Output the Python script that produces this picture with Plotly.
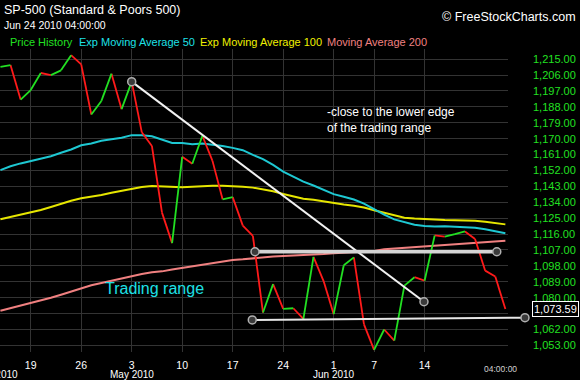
import plotly.graph_objects as go

# ---------------- data ----------------
dates = [
    "2010-04-14", "2010-04-15", "2010-04-16", "2010-04-19", "2010-04-20", "2010-04-21", "2010-04-22",
    "2010-04-23", "2010-04-26", "2010-04-27", "2010-04-28", "2010-04-29", "2010-04-30",
    "2010-05-03", "2010-05-04", "2010-05-05", "2010-05-06", "2010-05-07", "2010-05-10", "2010-05-11",
    "2010-05-12", "2010-05-13", "2010-05-14", "2010-05-17", "2010-05-18", "2010-05-19", "2010-05-20",
    "2010-05-21", "2010-05-24", "2010-05-25", "2010-05-26", "2010-05-27", "2010-05-28",
    "2010-06-01", "2010-06-02", "2010-06-03", "2010-06-04", "2010-06-07", "2010-06-08", "2010-06-09",
    "2010-06-10", "2010-06-11", "2010-06-14", "2010-06-15", "2010-06-16", "2010-06-17", "2010-06-18",
    "2010-06-21", "2010-06-22", "2010-06-23", "2010-06-24",
]
close = [
    1210.65, 1211.67, 1192.13, 1197.52, 1207.17, 1205.94, 1208.67, 1217.28, 1212.05, 1183.71,
    1191.36, 1206.78, 1186.69, 1202.26, 1173.60, 1165.87, 1128.15, 1110.88, 1159.73, 1155.79,
    1171.67, 1157.44, 1135.68, 1136.94, 1120.80, 1115.05, 1071.59, 1087.69, 1073.65, 1074.03,
    1067.95, 1103.06, 1089.41, 1070.71, 1098.38, 1102.83, 1064.88, 1050.47, 1062.00, 1055.69,
    1086.84, 1091.60, 1089.63, 1115.23, 1114.61, 1116.04, 1117.51, 1113.20, 1095.31, 1092.04,
    1073.59,
]
ema50 = [
    1152.2, 1154.4, 1156.0, 1157.3, 1158.8, 1160.1, 1162.0, 1163.9, 1166.3, 1167.3,
    1168.8, 1169.7, 1170.5, 1172.0, 1172.0, 1171.4, 1169.6, 1167.6, 1167.6, 1166.9,
    1167.3, 1166.7, 1165.8, 1164.8, 1163.5, 1160.8, 1158.4, 1155.2, 1151.4, 1148.5,
    1145.7, 1143.5, 1141.1, 1138.6, 1137.1, 1135.6, 1133.2, 1130.0, 1127.0, 1124.3,
    1122.6, 1121.3, 1120.6, 1120.3, 1120.5, 1120.3, 1120.0, 1119.6, 1118.7, 1117.7,
    1116.5,
]
ema100 = [
    1124.4, 1125.6, 1126.8, 1128.3, 1129.6, 1131.3, 1133.2, 1134.9, 1136.3, 1137.0,
    1138.1, 1139.4, 1140.6, 1141.9, 1142.7, 1143.2, 1143.0, 1142.5, 1142.5, 1142.8,
    1143.2, 1143.4, 1143.4, 1143.2, 1142.8, 1142.3, 1141.4, 1140.2, 1138.7, 1137.3,
    1136.0, 1135.4, 1134.4, 1133.4, 1132.7, 1132.0, 1131.0, 1129.5, 1128.2, 1126.8,
    1125.3, 1124.8, 1124.4, 1124.2, 1124.0, 1123.9, 1123.8, 1123.6, 1123.0, 1122.2,
    1121.5,
]
ma200 = [
    1072.6, 1074.0, 1075.5, 1076.8, 1078.3, 1080.0, 1081.7, 1083.6, 1085.5, 1087.0,
    1088.3, 1089.6, 1091.0, 1092.3, 1093.4, 1094.4, 1094.9, 1095.9, 1096.8, 1097.9,
    1098.7, 1099.7, 1100.6, 1101.3, 1101.7, 1102.3, 1102.9, 1103.3, 1103.6, 1103.8,
    1104.0, 1104.2, 1104.7, 1105.1, 1105.4, 1105.9, 1106.3, 1106.4, 1107.4, 1107.8,
    1108.1, 1108.5, 1108.8, 1109.3, 1109.7, 1110.1, 1110.7, 1111.1, 1111.4, 1111.8,
    1112.3,
]

tick_dates = ["2010-04-19", "2010-04-26", "2010-05-03", "2010-05-10", "2010-05-17",
              "2010-05-24", "2010-06-01", "2010-06-07", "2010-06-14"]
tick_text = ["19", "26", "3", "10", "17", "24", "1", "7", "14"]
month_dates = ["2010-05-03", "2010-06-01"]
month_text = ["May 2010", "Jun 2010"]

price_ticks = [1053 + 9 * k for k in range(19)]
hidden_price_tick = 1071  # covered by the last-price box

# user-drawn trendlines (trading-day position, price)
trend_x0 = [13.0, 25.21, 24.94]
trend_y0 = [1202.26, 1106.0, 1067.4]
trend_x1 = [41.94, 49.15, 51.94]
trend_y1 = [1077.7, 1106.0, 1068.7]
trend_colors = ["#f2f2f2", "#d4d4d4", "#e6e6e6"]
trend_widths = [2, 3.5, 2]

last_label = "1,073.59"

# ---------------- figure ----------------
xpos = list(range(len(dates)))
X0, X1 = -0.04, 50.26
Y0, Y1 = 1049.27, 1220.75


def px(i):
    return (i - X0) / (X1 - X0)


def py(v):
    return (v - Y0) / (Y1 - Y0)


fig = go.Figure()

for vals, col in [(ma200, "#f08080"), (ema100, "#e6e600"), (ema50, "#1ec8d2")]:
    fig.add_trace(go.Scatter(x=xpos, y=vals, mode="lines",
                             line=dict(color=col, width=2), hoverinfo="skip"))

gx, gy, rx, ry = [], [], [], []
for i in range(1, len(close)):
    if close[i] >= close[i - 1]:
        gx += [xpos[i - 1], xpos[i], None]
        gy += [close[i - 1], close[i], None]
    else:
        rx += [xpos[i - 1], xpos[i], None]
        ry += [close[i - 1], close[i], None]
fig.add_trace(go.Scatter(x=rx, y=ry, mode="lines", line=dict(color="#ff1a1a", width=1.8),
                         hoverinfo="skip"))
fig.add_trace(go.Scatter(x=gx, y=gy, mode="lines", line=dict(color="#22e022", width=1.8),
                         hoverinfo="skip"))

shapes = []
for a, b, c, d, col, w in zip(trend_x0, trend_y0, trend_x1, trend_y1, trend_colors, trend_widths):
    shapes.append(dict(type="line", xref="paper", yref="paper",
                       x0=px(a), y0=py(b), x1=px(c), y1=py(d),
                       line=dict(color=col, width=w), layer="above"))
for a, b in list(zip(trend_x0, trend_y0)) + list(zip(trend_x1, trend_y1)):
    shapes.append(dict(type="circle", xref="paper", yref="paper",
                       xsizemode="pixel", ysizemode="pixel",
                       xanchor=px(a), yanchor=py(b), x0=-4, x1=4, y0=-4, y1=4,
                       fillcolor="#3a3a3a", line=dict(color="#b0b0b0", width=1.5),
                       layer="above"))

W, H = 580, 380
L, R, T, B = 0, 72, 49, 28
PW, PH = W - L - R, H - T - B


def pxp(xpix):
    return (xpix - L) / PW


def pyp(ypix):
    return (H - B - ypix) / PH


ann = []
ann.append(dict(text="SP-500 (Standard &amp; Poors 500)", x=pxp(2), y=pyp(10), xanchor="left",
                yanchor="middle", font=dict(size=12.5, color="#ffffff")))
ann.append(dict(text="Jun 24 2010 04:00:00", x=pxp(2), y=pyp(25), xanchor="left",
                yanchor="middle", font=dict(size=10.5, color="#ffffff")))
ann.append(dict(text="© FreeStockCharts.com", x=pxp(578), y=pyp(17), xanchor="right",
                yanchor="middle", font=dict(size=12.5, color="#ffffff")))
for txt, xx, col in [("Price History", 8, "#22e022"), ("Exp Moving Average 50", 77, "#1ee0e6"),
                     ("Exp Moving Average 100", 197.5, "#f0f000"),
                     ("Moving Average 200", 325, "#f08080")]:
    ann.append(dict(text=txt, x=pxp(xx), y=pyp(42), xanchor="left", yanchor="middle",
                    font=dict(size=11, color=col)))
ann.append(dict(text="-close to the lower edge<br>of the trading range", x=pxp(325),
                y=pyp(119.5), xanchor="left", yanchor="middle", align="left",
                font=dict(size=12, color="#ffffff")))
ann.append(dict(text="Trading range", x=pxp(103), y=pyp(288), xanchor="left",
                yanchor="middle", font=dict(size=16, color="#1ee0e6")))
for d, t in zip(month_dates, month_text):
    ann.append(dict(text=t, x=px(dates.index(d)), y=pyp(374.5), xanchor="center",
                    yanchor="middle", font=dict(size=10, color="#ffffff")))
ann.append(dict(text="Apr 2010", x=pxp(20), y=pyp(374.5), xanchor="right", yanchor="middle",
                font=dict(size=10, color="#ffffff")))
ann.append(dict(text="04:00:00", x=pxp(500), y=pyp(369), xanchor="center", yanchor="middle",
                font=dict(size=8.5, color="#d0d0d0")))
ann.append(dict(text=last_label, x=pxp(532), y=close[-1], yref="y", xref="paper",
                xanchor="left", yanchor="middle", showarrow=False,
                bordercolor="#ffffff", borderwidth=1, borderpad=1, bgcolor="#000000",
                font=dict(size=11, color="#ffffff")))
for a in ann:
    a.setdefault("xref", "paper")
    a.setdefault("yref", "paper")
    a["showarrow"] = False

price_ticktext = ["" if v == hidden_price_tick else f"{v:,.2f}" for v in price_ticks]

fig.update_layout(
    width=W, height=H, autosize=False,
    margin=dict(l=L, r=R, t=T, b=B, pad=0),
    paper_bgcolor="#000000", plot_bgcolor="#000000",
    font=dict(family="Liberation Sans, Arial, sans-serif", color="#ffffff", size=11),
    showlegend=False,
    hovermode=False,
    shapes=shapes,
    annotations=ann,
    xaxis=dict(range=[X0, X1], tickvals=[dates.index(d) for d in tick_dates],
               ticktext=tick_text, showgrid=True, gridcolor="#333333", gridwidth=1,
               zeroline=False, showline=False, ticks="", ticklabelstandoff=5,
               tickfont=dict(size=10.5, color="#ffffff")),
    yaxis=dict(range=[Y0, Y1], side="right", tickvals=price_ticks, ticktext=price_ticktext,
               showgrid=True, gridcolor="#333333", gridwidth=1, zeroline=False,
               showline=False, ticks="", ticklabelstandoff=24,
               tickfont=dict(size=11, color="#22e022")),
)

fig.write_html("out.html", config={"displayModeBar": False},
               post_script="document.body.style.margin='0px';document.body.style.background='#000';")
